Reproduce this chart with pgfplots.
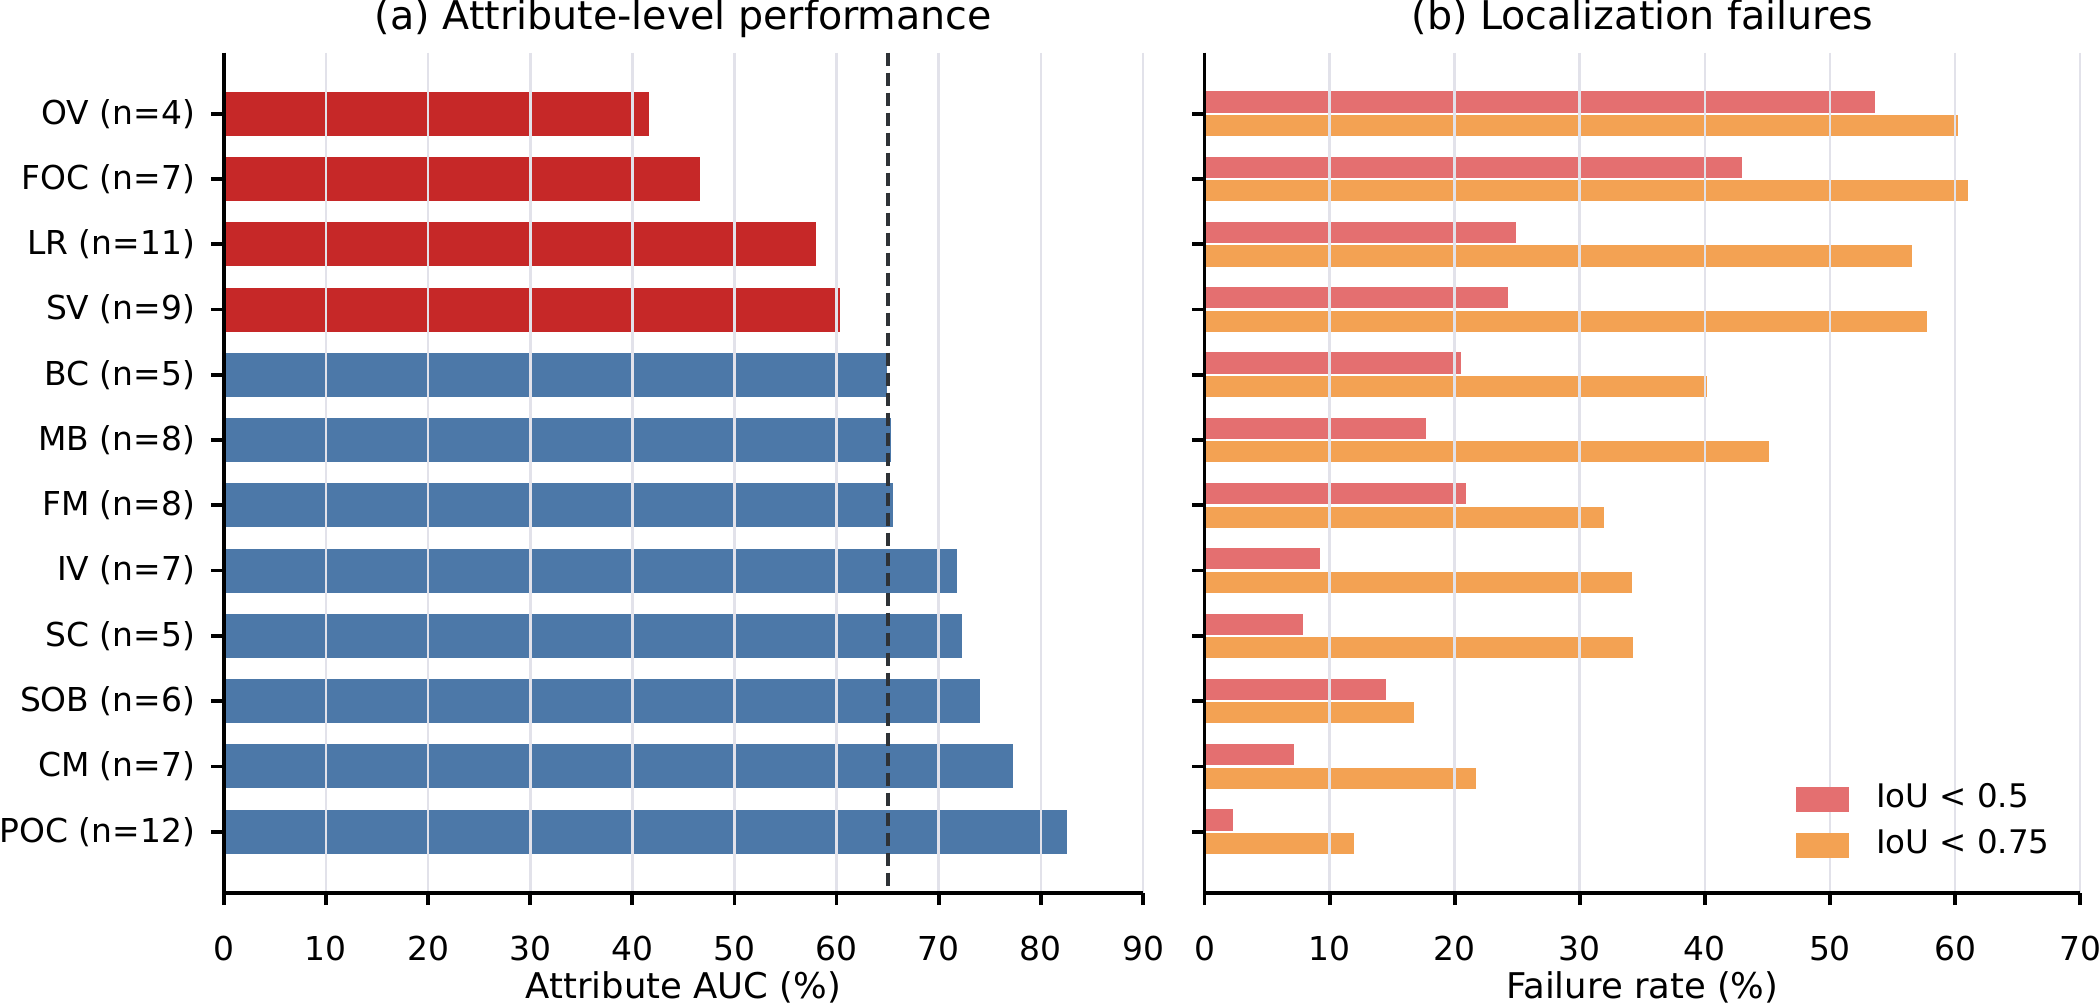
\documentclass[border=0pt]{standalone}
\usepackage{pgfplots}
\pgfplotsset{compat=1.18}
\usepackage{fontspec}
\setmainfont{DejaVu Sans}
\definecolor{cred}{HTML}{C62828}
\definecolor{cblue}{HTML}{4C78A8}
\definecolor{lred}{HTML}{E46F70}
\definecolor{lorange}{HTML}{F3A253}
\definecolor{gridc}{RGB}{226,226,234}
\definecolor{dashc}{HTML}{2E3236}
\pgfplotsset{
  mystyle/.style={
    scale only axis,
    height=201.6pt,
    ymin=-0.935, ymax=11.935,
    y dir=reverse,
    ytick={0,...,11},
    axis x line*=bottom,
    axis y line*=left,
    axis line style={line width=0.9pt, black},
    tick align=outside,
    major tick length=3pt,
    tick style={line width=0.9pt, black},
    xmajorgrids,
    major grid style={draw=gridc, line width=0.65pt},
    axis on top,
    /pgf/number format/assume math mode=true,
    ticklabel style={font=\fontsize{7.9}{9}\selectfont},
    xticklabel style={anchor=base, yshift=-13.35pt},
    yticklabel style={anchor=east, inner sep=0pt, xshift=-3.7pt},
    xlabel style={font=\fontsize{8.5}{10}\selectfont, at={(axis description cs:0.5,0)}, anchor=base, yshift=-25.3pt},
    title style={font=\fontsize{9.5}{11}\selectfont, at={(axis description cs:0.5,1)}, anchor=base, yshift=-0.5pt},
  },
  mybar/.style={xbar, bar shift=0pt, draw=white, line width=0.4pt},
}
\begin{document}
\begin{tikzpicture}
\path[use as bounding box] (-53.69pt,-26.71pt) rectangle (450.31pt,214.25pt);
\begin{axis}[mystyle, at={(0pt,0pt)}, anchor=south west, width=220.66pt,
  xmin=0, xmax=90, xtick={0,10,...,90},
  yticklabels={OV (n=4),FOC (n=7),LR (n=11),SV (n=9),BC (n=5),MB (n=8),FM (n=8),IV (n=7),SC (n=5),SOB (n=6),CM (n=7),POC (n=12)},
  xlabel={Attribute AUC (\%)},
  title={(a) Attribute-level performance}]
\addplot[mybar, bar width=0.7, fill=cred] coordinates {(41.7,0) (46.7,1) (58.1,2) (60.4,3)};
\addplot[mybar, bar width=0.7, fill=cblue] coordinates {(65.0,4) (65.4,5) (65.6,6) (71.9,7) (72.4,8) (74.1,9) (77.3,10) (82.6,11)};
\addplot[dashc, line width=1pt, dash pattern=on 3.2pt off 1.6pt] coordinates {(65.06,-0.935) (65.06,11.935)};
\end{axis}
\begin{axis}[mystyle, at={(235.41pt,0pt)}, anchor=south west, width=210.14pt,
  xmin=0, xmax=70, xtick={0,10,...,70},
  yticklabels={},
  xlabel={Failure rate (\%)},
  title={(b) Localization failures},
  legend cell align=left,
  legend style={at={(axis description cs:0.675,0.13)}, anchor=north west, draw=none, fill=none, inner sep=0pt,
    font=\fontsize{7.8}{9}\selectfont, row sep=3.9pt, column sep=6.5pt,
    nodes={inner sep=0pt, text height=5.6pt, text depth=1.6pt}}]
\addplot[mybar, bar width=0.35, bar shift=-0.18, fill=lred, forget plot] coordinates {(53.7,0) (43.0,1) (25.0,2) (24.3,3) (20.6,4) (17.8,5) (21.0,6) (9.3,7) (7.9,8) (14.6,9) (7.2,10) (2.3,11)};
\addplot[mybar, bar width=0.35, bar shift=0.18, fill=lorange, forget plot] coordinates {(60.3,0) (61.1,1) (56.6,2) (57.8,3) (40.2,4) (45.2,5) (32.0,6) (34.2,7) (34.3,8) (16.8,9) (21.8,10) (12.0,11)};
\addlegendimage{legend image code/.code={\fill[lred] (0pt,-2.8pt) rectangle (12.2pt,2.8pt);}}
\addlegendentry{IoU < 0.5}
\addlegendimage{legend image code/.code={\fill[lorange] (0pt,-2.8pt) rectangle (12.2pt,2.8pt);}}
\addlegendentry{IoU < 0.75}
\end{axis}
\end{tikzpicture}
\end{document}
